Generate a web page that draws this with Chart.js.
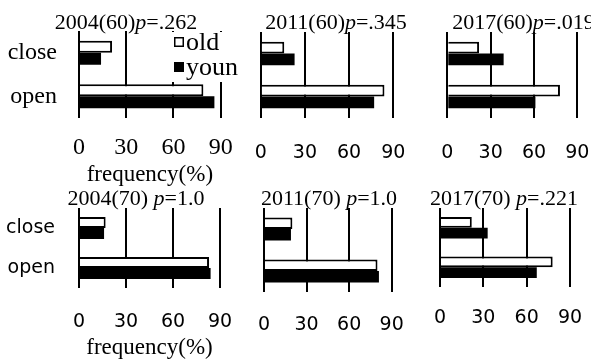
<!DOCTYPE html>
<html>
<head>
<meta charset="utf-8">
<title>frequency(%)</title>
<script src="https://cdn.jsdelivr.net/npm/chart.js@4.4.1/dist/chart.umd.min.js"></script>
<style>
	html, body { margin: 0; padding: 0; background: #fff; }
	body { width: 591px; height: 359px; position: relative; overflow: hidden; }
	canvas { position: absolute; }
</style>
</head>
<body>
<script>
	// categorias y etiquetas
	const categorias = ['close', 'open']
	const series = ['old', 'youn']
	const anios = ['2004', '2011', '2017']
	const edades = [60, 70]
	const valoresP = ['=.262', '=.345', '=.019', '=1.0', '=1.0', '=.221']
	const ticksX = [0, 30, 60, 90]

	// frecuencias (%) por panel: fila 60 y luego fila 70, cada uno [close, open]
	const old = [
		[21, 79], [16, 84], [22, 78],
		[17, 83], [20, 80], [22, 78]
	]
	const youn = [
		[14, 86], [23, 77], [39, 61],
		[16, 84], [19, 81], [33, 67]
	]

	// posicion de cada panel en la pagina (area del grafico, ejes, titulo)
	const paneles = [
		{L: 79,    R: 220.7, T: 31,  B: 118, yw: 79, pt: 31, xh: 71, tPad: 15.6, yPad: 22, tx: 126,   ty: 29,  serif: true},
		{L: 260.7, R: 393.3, T: 32,  B: 118, yw: 20, pt: 32, xh: 60, tPad: 23.6, tx: 336,   ty: 29},
		{L: 447.3, R: 577.3, T: 32,  B: 118, yw: 20, pt: 32, xh: 60, tPad: 23.6, tx: 523.5, ty: 29},
		{L: 79,    R: 220,   T: 208, B: 288, yw: 79, pt: 24, xh: 74, tPad: 22.6, yPad: 24, tx: 136,   ty: 205},
		{L: 264,   R: 391.7, T: 208, B: 292, yw: 20, pt: 24, xh: 60, tPad: 21.6, tx: 329,   ty: 205},
		{L: 440,   R: 570,   T: 208, B: 287, yw: 20, pt: 24, xh: 60, tPad: 19.6, tx: 504,   ty: 205}
	]

	const SERIF = '"Liberation Serif", "Times New Roman", serif'
	const SANS = '"DejaVu Sans", Verdana, sans-serif'

	// titulo con la p en cursiva
	const tituloPanel = {
		id: 'tituloPanel',
		afterDraw(chart, args, o) {
			const ctx = chart.ctx
			ctx.save()
			ctx.fillStyle = '#000'
			ctx.textBaseline = 'alphabetic'
			let total = 0
			o.partes.forEach(s => {
				ctx.font = (s.it ? 'italic ' : '') + '22px ' + SERIF
				s.w = ctx.measureText(s.t).width
				total += s.w
			})
			let x = o.x - total / 2
			o.partes.forEach(s => {
				ctx.font = (s.it ? 'italic ' : '') + '22px ' + SERIF
				ctx.fillText(s.t, x, o.y)
				x += s.w
			})
			ctx.restore()
		}
	}

	// leyenda con fondo blanco encima de la grilla
	const leyenda = {
		id: 'leyenda',
		afterDraw(chart, args, o) {
			if (!o.display) return
			const ctx = chart.ctx
			ctx.save()
			ctx.fillStyle = '#fff'
			ctx.fillRect(o.x - 4, o.y, 70, 50)
			chart.data.datasets.forEach((ds, k) => {
				const cy = o.y + 10 + k * 25
				ctx.fillStyle = ds.backgroundColor
				ctx.fillRect(o.x, cy - 5, 10, 10)
				ctx.strokeStyle = '#000'
				ctx.lineWidth = 1.5
				ctx.strokeRect(o.x + 0.75, cy - 4.25, 8.5, 8.5)
				ctx.fillStyle = '#000'
				ctx.font = '26px ' + SERIF
				ctx.textBaseline = 'alphabetic'
				ctx.fillText(ds.label, o.x + 12, cy + 8)
			})
			ctx.restore()
		}
	}

	function crearPanel(i) {
		const p = paneles[i]
		const fila = Math.floor(i / 3)
		const izq = Math.floor(p.L - p.yw)
		const arriba = Math.floor(p.T - p.pt)
		const ancho = Math.ceil(p.R + 22 - izq)
		const alto = Math.ceil(p.B + p.xh - arriba)
		// tamaños de los ejes, se corrigen despues de medir el area
		const med = {y: p.L - izq, x: p.xh}

		const canvas = document.createElement('canvas')
		canvas.width = ancho
		canvas.height = alto
		canvas.style.left = izq + 'px'
		canvas.style.top = arriba + 'px'
		canvas.style.width = ancho + 'px'
		canvas.style.height = alto + 'px'
		document.body.appendChild(canvas)

		const izquierda = (i % 3) == 0
		const fuenteTicks = p.serif ? {family: SERIF, size: 24} : {family: SANS, size: 19}

		const valores = {
			labels: categorias,
			datasets: [{
				label: series[0],
				data: old[i],
				backgroundColor: '#ffffff',
				borderColor: '#000000',
				borderWidth: 2
			}, {
				label: series[1],
				data: youn[i],
				backgroundColor: '#000000',
				borderWidth: 0
			}]
		}

		const padding = {
			left: 0,
			top: p.T - arriba,
			right: ancho - (p.R - izq),
			bottom: Math.max(0, alto - (p.B + p.xh - arriba))
		}

		const options = {
			indexAxis: 'y',
			responsive: false,
			animation: false,
			devicePixelRatio: 1,
			events: [],
			categoryPercentage: 0.55,
			barPercentage: 1,
			layout: {padding: padding},
			scales: {
				x: {
					min: 0,
					max: 90,
					afterBuildTicks: s => { s.ticks = ticksX.map(v => ({value: v})) },
					afterFit: s => { s.height = med.x; s.paddingLeft = 0; s.paddingRight = 0 },
					grid: {color: '#000', lineWidth: 2, drawTicks: false},
					border: {display: false},
					ticks: {color: '#000', font: fuenteTicks, padding: p.tPad, autoSkip: false, maxRotation: 0},
					title: {
						display: izquierda,
						text: 'frequency(%)',
						color: '#000',
						font: {family: SERIF, size: 23},
						padding: 0
					}
				},
				y: {
					afterFit: s => { s.width = med.y; s.paddingTop = 0; s.paddingBottom = 0 },
					grid: {display: false, drawTicks: false},
					border: {display: false},
					ticks: {
						display: izquierda,
						color: '#000',
						font: p.serif ? {family: SERIF, size: 24} : {family: SANS, size: 19},
						padding: p.yPad || 0
					}
				}
			},
			plugins: {
				legend: {display: false},
				tooltip: {enabled: false},
				tituloPanel: {
					x: p.tx - izq,
					y: p.ty - arriba,
					partes: [
						{t: anios[i % 3] + '(' + edades[fila] + ')' + (fila == 1 ? ' ' : '')},
						{t: 'p', it: true},
						{t: valoresP[i]}
					]
				},
				leyenda: {display: i == 0, x: 174 - izq, y: 32 - arriba}
			}
		}

		const grafico = new Chart(canvas, {type: 'bar', data: valores, options: options, plugins: [tituloPanel, leyenda]})

		// ajusta el area del grafico a la del original
		for (let k = 0; k < 4; k++) {
			const ca = grafico.chartArea
			const dL = (p.L - izq) - ca.left
			const dR = (p.R - izq) - ca.right
			const dT = (p.T - arriba) - ca.top
			const dB = (p.B - arriba) - ca.bottom
			if (Math.abs(dL) + Math.abs(dR) + Math.abs(dT) + Math.abs(dB) < 0.2) break
			med.y = Math.max(0, med.y + dL)
			padding.right = Math.max(0, padding.right - dR)
			padding.top = Math.max(0, padding.top + dT)
			med.x = Math.max(0, med.x - dB)
			grafico.options.layout.padding = padding
			grafico.update()
		}
	}

	for (let i = 0; i < paneles.length; i++) {
		crearPanel(i)
	}
</script>
</body>
</html>
